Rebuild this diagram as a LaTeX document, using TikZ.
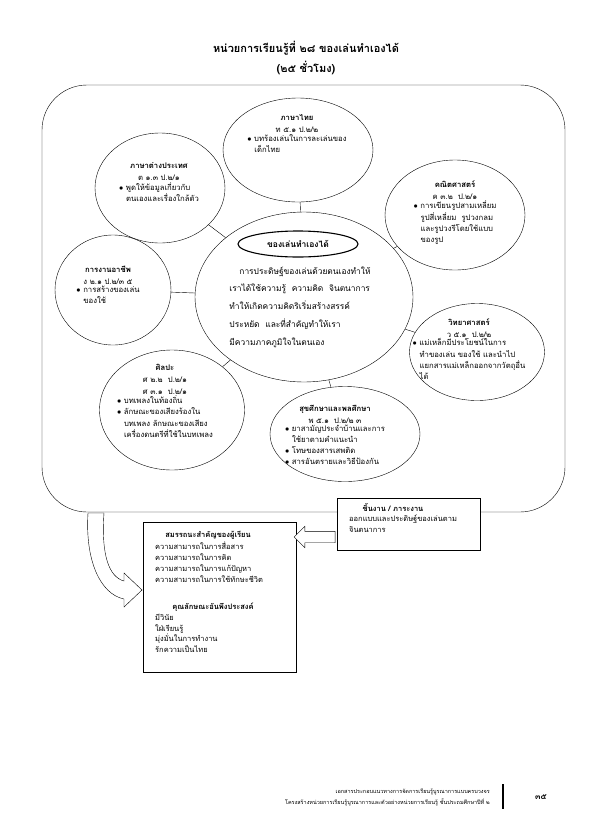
\documentclass[tikz,border=0pt]{standalone}
\usepackage{fontspec}
\setmainfont[Script=Thai]{Loma}
\usepackage{tikz}
\usetikzlibrary{shapes.geometric,shapes.arrows,positioning}

\begin{document}
\begin{tikzpicture}[x=1pt,y=-1pt,
  subj/.style={draw,ellipse,inner sep=0pt},
  head/.style={align=center,inner sep=0pt,font=\fontsize{7.7}{12}\selectfont},
  body/.style={align=left,inner sep=0pt,font=\fontsize{7.7}{11.3}\selectfont},
  panel/.style={draw,fill=white,inner sep=0pt,anchor=north west},
  bold/.style={inner sep=0pt,font=\bfseries\fontsize{7.5}{9}\selectfont},
  txt/.style={align=left,inner sep=0pt,anchor=north west,font=\fontsize{7.5}{10.7}\selectfont}]
\useasboundingbox (0,0) rectangle (595,836);

% title
\node [align=center,font=\bfseries\fontsize{11}{20}\selectfont] (title) at (306,58)
  {หน่วยการเรียนรู้ที่ ๒๘ ของเล่นทำเองได้\\(๒๕ ชั่วโมง)};

% frame
\draw [rounded corners=45pt] (42,85) rectangle (565,512);

% center
\node [subj,minimum width=218,minimum height=170] (core) at (304,297) {};
\node [subj,line width=1.1pt,minimum width=120,minimum height=26,font=\bfseries\fontsize{8.5}{10}\selectfont] (core-h) at (298,244) {ของเล่นทำเองได้};
\node [align=left,inner sep=0pt,font=\fontsize{8.4}{17.7}\selectfont] (core-b) at (300,307)
  {\hspace{10pt}การประดิษฐ์ของเล่นด้วยตนเองทำให้\\
   เราได้ใช้ความรู้ \ ความคิด \ จินตนาการ\\
   ทำให้เกิดความคิดริเริ่มสร้างสรรค์\\
   ประหยัด \ และที่สำคัญทำให้เรา\\
   มีความภาคภูมิใจในตนเอง};

% subjects
\node [subj,minimum width=150,minimum height=104] (thai) at (298,150) {};
\node [head] (thai-h) at (297,124) {\textbf{ภาษาไทย}\\ท ๕.๑ ป.๒/๒};
\node [body,below=1pt of thai-h] (thai-b) {$\bullet$\ บทร้องเล่นในการละเล่นของ\\\hspace{7pt}เด็กไทย};

\node [subj,minimum width=130,minimum height=110] (eng) at (160,188) {};
\node [head] (eng-h) at (159,172) {\textbf{ภาษาต่างประเทศ}\\ต ๑.๓ ป.๒/๑};
\node [body,below=1pt of eng-h] (eng-b) {$\bullet$\ พูดให้ข้อมูลเกี่ยวกับ\\\hspace{7pt}ตนเองและเรื่องใกล้ตัว};

\node [subj,minimum width=140,minimum height=110] (math) at (455,215) {};
\node [head] (math-h) at (455,190) {\textbf{คณิตศาสตร์}\\ค ๓.๒ \ ป.๒/๑};
\node [body,below=1pt of math-h] (math-b) {$\bullet$\ การเขียนรูปสามเหลี่ยม\\\hspace{7pt}รูปสี่เหลี่ยม \ รูปวงกลม\\\hspace{7pt}และรูปวงรีโดยใช้แบบ\\\hspace{7pt}ของรูป};

\node [subj,minimum width=116,minimum height=110] (occ) at (113,290) {};
\node [head] (occ-h) at (108,275) {\textbf{การงานอาชีพ}\\ง ๒.๑ ป.๒/๓ ๕};
\node [body,below=1pt of occ-h] (occ-b) {$\bullet$\ การสร้างของเล่น\\\hspace{7pt}ของใช้};

\node [subj,minimum width=135,minimum height=97] (sci) at (477,352) {};
\node [head] (sci-h) at (469,328) {\textbf{วิทยาศาสตร์}\\ว ๕.๑ \ ป.๒/๒};
\node [body,below=1pt of sci-h] (sci-b) {$\bullet$\ แม่เหล็กมีประโยชน์ในการ\\\hspace{7pt}ทำของเล่น ของใช้ และนำไป\\\hspace{7pt}แยกสารแม่เหล็กออกจากวัตถุอื่น\\\hspace{7pt}ได้};

\node [subj,minimum width=145,minimum height=120] (art) at (172,410) {};
\node [head] (art-h) at (165,379) {\textbf{ศิลปะ}\\ศ ๒.๒ \ ป.๒/๑\\ศ ๓.๑ \ ป.๒/๑};
\node [body,below=1pt of art-h] (art-b) {$\bullet$\ บทเพลงในท้องถิ่น\\$\bullet$\ ลักษณะของเสียงร้องใน\\\hspace{7pt}บทเพลง ลักษณะของเสียง\\\hspace{7pt}เครื่องดนตรีที่ใช้ในบทเพลง};

\node [subj,minimum width=150,minimum height=95] (health) at (345,434) {};
\node [head] (health-h) at (335,414) {\textbf{สุขศึกษาและพลศึกษา}\\พ ๕.๑ \ ป.๒/๒ ๓};
\node [body,below=1pt of health-h] (health-b) {$\bullet$\ ยาสามัญประจำบ้านและการ\\\hspace{7pt}ใช้ยาตามคำแนะนำ\\$\bullet$\ โทษของสารเสพติด\\$\bullet$\ สารอันตรายและวิธีป้องกัน};

\draw (core) -- (thai);
\draw (core) -- (eng);
\draw (core) -- (math);
\draw (core) -- (occ);
\draw (core) -- (sci);
\draw (core) -- (art);
\draw (core) -- (health);

% work box
\node [panel,minimum width=143,minimum height=52] (work) at (337,498) {};
\node [bold] (work-h) at (393,508) {ชิ้นงาน / ภาระงาน};
\node [txt] (work-b) at (349,515) {ออกแบบและประดิษฐ์ของเล่นตาม\\จินตนาการ};

% competency box
\node [panel,minimum width=153,minimum height=150] (comp) at (143,522) {};
\node [bold] (comp-h1) at (208,535) {สมรรถนะสำคัญของผู้เรียน};
\node [txt] (comp-b1) at (155,542) {ความสามารถในการสื่อสาร\\ความสามารถในการคิด\\ความสามารถในการแก้ปัญหา\\ความสามารถในการใช้ทักษะชีวิต};
\node [bold] (comp-h2) at (213,607) {คุณลักษณะอันพึงประสงค์};
\node [txt] (comp-b2) at (155,614) {มีวินัย\\ใฝ่เรียนรู้\\มุ่งมั่นในการทำงาน\\รักความเป็นไทย};

% arrows
\node [draw,fill=white,single arrow,shape border rotate=180,inner sep=5.5pt,
  minimum height=41,single arrow head extend=5pt] (arr) at (317.5,537) {};
\draw [fill=white] (88,513) .. controls (85,560) and (100,594) .. (124,599)
  -- (124,607) -- (142,590) -- (124,573) -- (124,581)
  .. controls (109,577) and (101,555) .. (104,513) -- cycle;

% footer
\node [align=right,anchor=east,inner sep=0pt,font=\fontsize{5.5}{11}\selectfont] (foot) at (490,797)
  {เอกสารประกอบแนวทางการจัดการเรียนรู้บูรณาการแบบครบวงจร\\
   โครงสร้างหน่วยการเรียนรู้บูรณาการและตัวอย่างหน่วยการเรียนรู้ ชั้นประถมศึกษาปีที่ ๒};
\draw [line width=1.5pt] (503,784) -- (503,809);
\node [inner sep=0pt,font=\bfseries\fontsize{8}{10}\selectfont] (page) at (541,797) {๓๕};
\end{tikzpicture}
\end{document}
